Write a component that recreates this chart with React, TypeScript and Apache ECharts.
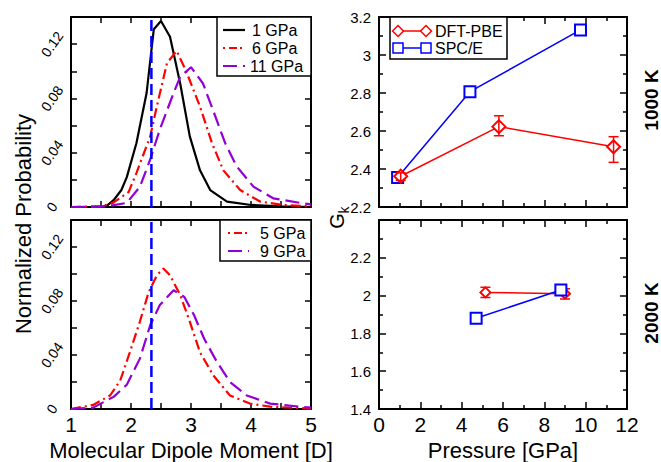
import React, { useEffect, useRef } from 'react';
import * as echarts from 'echarts';

// ---------- data ----------
const dipoleRef = 2.34; // vertical dashed reference (D)

// 1000 K distributions
const gpa1: [number, number][] = [
  [1.0, 0], [1.5, 0], [1.6, 0.001], [1.71, 0.005], [1.84, 0.0125], [1.93, 0.022], [2.09, 0.047],
  [2.26, 0.084], [2.38, 0.131], [2.5, 0.137], [2.65, 0.1255], [2.82, 0.091], [2.98, 0.052],
  [3.15, 0.027], [3.32, 0.0125], [3.6, 0.004], [4.0, 0.0015], [4.5, 0.0004], [5.0, 0],
];
const gpa6: [number, number][] = [
  [1.0, 0], [1.5, 0.0005], [1.7, 0.003], [1.96, 0.011], [2.09, 0.025], [2.32, 0.052], [2.43, 0.074],
  [2.6, 0.106], [2.76, 0.115], [2.92, 0.1], [3.15, 0.074], [3.35, 0.047], [3.54, 0.027],
  [3.82, 0.0125], [4.15, 0.004], [4.54, 0.0015], [5.0, 0.0005],
];
const gpa11: [number, number][] = [
  [1.0, 0], [1.6, 0.0005], [1.93, 0.003], [2.15, 0.015], [2.32, 0.035], [2.48, 0.057], [2.71, 0.084],
  [2.82, 0.096], [3.0, 0.103], [3.2, 0.091], [3.37, 0.071], [3.57, 0.047], [3.76, 0.03],
  [4.04, 0.015], [4.37, 0.0064], [4.82, 0.003], [5.0, 0.002],
];
// 2000 K distributions
const gpa5: [number, number][] = [
  [1.0, 0], [1.37, 0.003], [1.65, 0.01], [1.82, 0.021], [1.98, 0.042], [2.15, 0.065], [2.29, 0.086],
  [2.43, 0.099], [2.54, 0.104], [2.65, 0.099], [2.82, 0.0845], [2.98, 0.0647], [3.15, 0.042],
  [3.37, 0.025], [3.65, 0.01], [3.98, 0.004], [4.32, 0.0017], [5.0, 0.0003],
];
const gpa9: [number, number][] = [
  [1.0, 0], [1.37, 0.001], [1.71, 0.009], [1.93, 0.018], [2.15, 0.0375], [2.32, 0.062], [2.48, 0.077],
  [2.71, 0.088], [2.89, 0.083], [3.05, 0.0696], [3.22, 0.052], [3.43, 0.035], [3.65, 0.02],
  [3.93, 0.01], [4.32, 0.004], [4.82, 0.0017], [5.0, 0.001],
];

// G_k vs pressure
const dftP1000 = [1.05, 5.8, 11.35];
const dftG1000 = [2.362, 2.623, 2.517];
const dftLo1000 = [2.34, 2.575, 2.435];
const dftHi1000 = [2.38, 2.68, 2.57];
const spcP1000 = [0.9, 4.4, 9.75];
const spcG1000 = [2.355, 2.807, 3.132];

const dftP2000 = [5.15, 9.0];
const dftG2000 = [2.017, 2.01];
const dftLo2000 = [1.99, 1.982];
const dftHi2000 = [2.044, 2.036];
const spcP2000 = [4.7, 8.8];
const spcG2000 = [1.88, 2.03];

const seriesNames = ['1 GPa', '6 GPa', '11 GPa', '5 GPa', '9 GPa', 'DFT-PBE', 'SPC/E'];

// ---------- styles ----------
const FONT = '"Liberation Sans", Arial, Helvetica, sans-serif';
const RED = '#ff0000';
const VIOLET = '#9400d3';
const BLUE = '#0000ff';
const DASHDOT = [10, 4, 2, 4];
const LONGDASH = [14, 6];

const zip = (a: number[], b: number[]) => a.map((v, i) => [v, b[i]]);
const zip3 = (a: number[], b: number[], c: number[]) => a.map((v, i) => [v, b[i], c[i]]);

function axisCommon(o: any) {
  return {
    type: 'value',
    splitLine: { show: false },
    axisLine: { show: true, onZero: false, lineStyle: { color: '#000', width: 2 } },
    axisTick: { show: true, inside: true, length: 6, lineStyle: { color: '#000', width: 1.5 } },
    ...o,
  };
}

function errRender(params: any, api: any) {
  const x = api.value(0);
  const lo = api.coord([x, api.value(1)]);
  const hi = api.coord([x, api.value(2)]);
  const w = 5;
  const st = { stroke: RED, lineWidth: 1.5 };
  return {
    type: 'group',
    children: [
      { type: 'line', shape: { x1: lo[0], y1: lo[1], x2: hi[0], y2: hi[1] }, style: st },
      { type: 'line', shape: { x1: lo[0] - w, y1: lo[1], x2: lo[0] + w, y2: lo[1] }, style: st },
      { type: 'line', shape: { x1: hi[0] - w, y1: hi[1], x2: hi[0] + w, y2: hi[1] }, style: st },
    ],
  };
}

function diamond(cx: number, cy: number, r: number, color: string) {
  return {
    type: 'polygon',
    shape: { points: [[cx - r, cy], [cx, cy - r], [cx + r, cy], [cx, cy + r]] },
    style: { fill: '#fff', stroke: color, lineWidth: 1.5 },
  };
}
function square(cx: number, cy: number, r: number, color: string) {
  return {
    type: 'rect',
    shape: { x: cx - r, y: cy - r, width: 2 * r, height: 2 * r },
    style: { fill: '#fff', stroke: color, lineWidth: 1.5 },
  };
}
function txt(x: number, y: number, text: string, size: number, extra: any = {}) {
  return {
    type: 'text',
    x,
    y,
    ...extra,
    style: { text, fontSize: size, fontFamily: FONT, fill: '#000', align: 'left', verticalAlign: 'middle', ...(extra.style || {}) },
  };
}

export default function App() {
  const ref = useRef<HTMLDivElement>(null);
  useEffect(() => {
    const chart = echarts.init(ref.current!, null, { renderer: 'svg' });

    const grids = [
      { left: 71, top: 17, width: 240, height: 190 },
      { left: 71, top: 220, width: 240, height: 189 },
      { left: 379, top: 17, width: 248, height: 190 },
      { left: 379, top: 220, width: 248, height: 189 },
    ];

    const titleStyle = { fontSize: 22, color: '#000', fontFamily: FONT };

    const dipX = (gi: number, pos: string, labels: boolean) =>
      axisCommon({
        gridIndex: gi,
        position: pos,
        min: 1,
        max: 5,
        interval: 1,
        minorTick: { show: true, splitNumber: 2, length: 6, lineStyle: { color: '#000', width: 1.5 } },
        axisLabel: { show: labels, fontSize: 21, color: '#000', fontFamily: FONT, margin: 5 },
        ...(labels
          ? { name: 'Molecular Dipole Moment [D]', nameLocation: 'middle', nameGap: 30, nameTextStyle: titleStyle }
          : {}),
      });
    const probY = (gi: number, pos: string, labels: boolean) =>
      axisCommon({
        gridIndex: gi,
        position: pos,
        min: 0,
        max: 0.14,
        interval: 0.02,
        axisLabel: {
          show: labels,
          rotate: 55,
          align: 'center',
          verticalAlign: 'middle',
          margin: 19,
          fontSize: 14,
          color: '#000',
          fontFamily: FONT,
          formatter: (v: number) => {
            const k = Math.round(v * 100);
            return k % 4 === 0 && k <= 12 ? (k === 0 ? '0' : String(+v.toFixed(2))) : '';
          },
        },
      });
    const presX = (gi: number, pos: string, labels: boolean) =>
      axisCommon({
        gridIndex: gi,
        position: pos,
        min: 0,
        max: 12,
        interval: 2,
        axisTick: { show: true, inside: true, length: 7, lineStyle: { color: '#000', width: 1.5 } },
        minorTick: { show: true, splitNumber: 2, length: 4, lineStyle: { color: '#000', width: 1.5 } },
        axisLabel: { show: labels, fontSize: 21, color: '#000', fontFamily: FONT, margin: 5 },
        ...(labels
          ? { name: 'Pressure [GPa]', nameLocation: 'middle', nameGap: 30, nameTextStyle: titleStyle }
          : {}),
      });
    const gkY = (gi: number, pos: string, labels: boolean, min: number, max: number, showMax: boolean) =>
      axisCommon({
        gridIndex: gi,
        position: pos,
        min,
        max,
        interval: 0.2,
        axisTick: { show: true, inside: true, length: 7, lineStyle: { color: '#000', width: 1.5 } },
        minorTick: { show: true, splitNumber: 2, length: 4, lineStyle: { color: '#000', width: 1.5 } },
        axisLabel: { show: labels, fontSize: 15, color: '#000', fontFamily: FONT, margin: 8, showMaxLabel: showMax },
      });

    const option: any = {
      animation: false,
      backgroundColor: '#fff',
      grid: grids,
      xAxis: [
        dipX(0, 'bottom', false),
        dipX(0, 'top', false),
        dipX(1, 'bottom', true),
        dipX(1, 'top', false),
        presX(2, 'bottom', false),
        presX(2, 'top', false),
        presX(3, 'bottom', true),
        presX(3, 'top', false),
      ],
      yAxis: [
        probY(0, 'left', true),
        probY(0, 'right', false),
        probY(1, 'left', true),
        probY(1, 'right', false),
        gkY(2, 'left', true, 2.2, 3.2, true),
        gkY(2, 'right', false, 2.2, 3.2, true),
        gkY(3, 'left', true, 1.4, 2.4, false),
        gkY(3, 'right', false, 1.4, 2.4, false),
      ],
      series: [
        { name: seriesNames[0], type: 'line', xAxisIndex: 0, yAxisIndex: 0, data: gpa1, showSymbol: false, symbol: 'none', lineStyle: { color: '#000', width: 2.2 }, z: 3 },
        { name: seriesNames[1], type: 'line', xAxisIndex: 0, yAxisIndex: 0, data: gpa6, showSymbol: false, symbol: 'none', lineStyle: { color: RED, width: 2.2, type: DASHDOT }, z: 3 },
        { name: seriesNames[2], type: 'line', xAxisIndex: 0, yAxisIndex: 0, data: gpa11, showSymbol: false, symbol: 'none', lineStyle: { color: VIOLET, width: 2.2, type: LONGDASH }, z: 3 },
        { name: 'ref1', type: 'line', xAxisIndex: 0, yAxisIndex: 0, data: [[dipoleRef, 0], [dipoleRef, 0.14]], showSymbol: false, symbol: 'none', lineStyle: { color: BLUE, width: 2.5, type: [11, 5] }, z: 4 },
        { name: seriesNames[3], type: 'line', xAxisIndex: 2, yAxisIndex: 2, data: gpa5, showSymbol: false, symbol: 'none', lineStyle: { color: RED, width: 2.2, type: DASHDOT }, z: 3 },
        { name: seriesNames[4], type: 'line', xAxisIndex: 2, yAxisIndex: 2, data: gpa9, showSymbol: false, symbol: 'none', lineStyle: { color: VIOLET, width: 2.2, type: LONGDASH }, z: 3 },
        { name: 'ref2', type: 'line', xAxisIndex: 2, yAxisIndex: 2, data: [[dipoleRef, 0], [dipoleRef, 0.14]], showSymbol: false, symbol: 'none', lineStyle: { color: BLUE, width: 2.5, type: [11, 5] }, z: 4 },

        { name: seriesNames[6], type: 'line', xAxisIndex: 4, yAxisIndex: 4, data: zip(spcP1000, spcG1000), symbol: 'emptyRect', symbolSize: 11, itemStyle: { color: BLUE, borderWidth: 1.5 }, lineStyle: { color: BLUE, width: 1.5 }, z: 3 },
        { name: seriesNames[5], type: 'line', xAxisIndex: 4, yAxisIndex: 4, data: zip(dftP1000, dftG1000), symbol: 'emptyDiamond', symbolSize: 13, itemStyle: { color: RED, borderWidth: 1.5 }, lineStyle: { color: RED, width: 1.5 }, z: 4 },
        { name: 'dftErr1000', type: 'custom', xAxisIndex: 4, yAxisIndex: 4, data: zip3(dftP1000, dftLo1000, dftHi1000), renderItem: errRender, encode: { x: 0, y: [1, 2] }, z: 5 },

        { name: seriesNames[6] + ' 2000', type: 'line', xAxisIndex: 6, yAxisIndex: 6, data: zip(spcP2000, spcG2000), symbol: 'emptyRect', symbolSize: 11, itemStyle: { color: BLUE, borderWidth: 1.5 }, lineStyle: { color: BLUE, width: 1.5 }, z: 4 },
        { name: seriesNames[5] + ' 2000', type: 'line', xAxisIndex: 6, yAxisIndex: 6, data: zip(dftP2000, dftG2000), symbol: 'emptyDiamond', symbolSize: 10, itemStyle: { color: RED, borderWidth: 1.5 }, lineStyle: { color: RED, width: 1.5 }, z: 3 },
        { name: 'dftErr2000', type: 'custom', xAxisIndex: 6, yAxisIndex: 6, data: zip3(dftP2000, dftLo2000, dftHi2000), renderItem: errRender, encode: { x: 0, y: [1, 2] }, z: 3 },
      ],
      graphic: [
        // left y title
        txt(23, 224, 'Normalized Probability', 22, { rotation: Math.PI / 2, style: { align: 'center' } }),
        // G_k
        txt(337, 221, 'G', 20, { rotation: Math.PI / 2, style: { align: 'center' } }),
        txt(344, 210, 'k', 14, { rotation: Math.PI / 2, style: { align: 'center' } }),
        // temperatures
        txt(651, 100, '1000 K', 19, { rotation: Math.PI / 2, style: { align: 'center', fontWeight: 'bold' } }),
        txt(651, 313, '2000 K', 19, { rotation: Math.PI / 2, style: { align: 'center', fontWeight: 'bold' } }),

        // legend top-left
        { type: 'rect', shape: { x: 217, y: 17, width: 94, height: 59 }, style: { fill: '#fff', stroke: '#000', lineWidth: 1.5 }, z: 10 },
        { type: 'line', shape: { x1: 223, y1: 30, x2: 245, y2: 30 }, style: { stroke: '#000', lineWidth: 2.2 }, z: 11 },
        { type: 'line', shape: { x1: 223, y1: 48, x2: 245, y2: 48 }, style: { stroke: RED, lineWidth: 2.2, lineDash: [2, 4, 8, 3] }, z: 11 },
        { type: 'line', shape: { x1: 223, y1: 66, x2: 245, y2: 66 }, style: { stroke: VIOLET, lineWidth: 2.2, lineDash: LONGDASH }, z: 11 },
        { ...txt(252, 30, seriesNames[0], 16), z: 11 },
        { ...txt(252, 48, seriesNames[1], 16), z: 11 },
        { ...txt(250, 66, seriesNames[2], 16), z: 11 },

        // legend bottom-left
        { type: 'rect', shape: { x: 220, y: 220, width: 91, height: 41 }, style: { fill: '#fff', stroke: '#000', lineWidth: 1.5 }, z: 10 },
        { type: 'line', shape: { x1: 228, y1: 233, x2: 249, y2: 233 }, style: { stroke: RED, lineWidth: 2.2, lineDash: [2, 4, 8, 3] }, z: 11 },
        { type: 'line', shape: { x1: 228, y1: 251, x2: 249, y2: 251 }, style: { stroke: VIOLET, lineWidth: 2.2, lineDash: LONGDASH }, z: 11 },
        { ...txt(260, 233, seriesNames[3], 16), z: 11 },
        { ...txt(260, 251, seriesNames[4], 16), z: 11 },

        // legend top-right
        { type: 'rect', shape: { x: 390, y: 17, width: 117, height: 42 }, style: { fill: '#fff', stroke: '#000', lineWidth: 1.5 }, z: 10 },
        { type: 'line', shape: { x1: 398, y1: 31, x2: 426, y2: 31 }, style: { stroke: RED, lineWidth: 1.5 }, z: 11 },
        { ...diamond(398, 31, 5.5, RED), z: 12 },
        { ...diamond(426, 31, 5.5, RED), z: 12 },
        { type: 'line', shape: { x1: 398, y1: 48, x2: 426, y2: 48 }, style: { stroke: BLUE, lineWidth: 1.5 }, z: 11 },
        { ...square(398, 48, 5, BLUE), z: 12 },
        { ...square(426, 48, 5, BLUE), z: 12 },
        { ...txt(435, 31, seriesNames[5], 16), z: 11 },
        { ...txt(435, 48, seriesNames[6], 16), z: 11 },
      ],
    };

    chart.setOption(option);
    return () => chart.dispose();
  }, []);

  return (
    <div
      ref={ref}
      style={{ position: 'fixed', left: 0, top: 0, width: 661, height: 462, background: '#fff' }}
    />
  );
}
